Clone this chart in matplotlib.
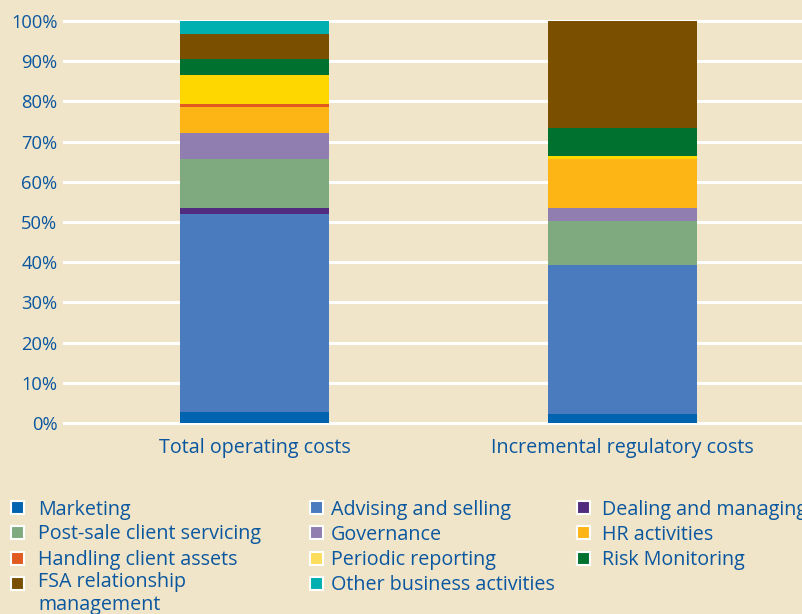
import matplotlib
matplotlib.use("Agg")
import matplotlib.pyplot as plt
from matplotlib.patches import Rectangle

categories = ["Total operating costs", "Incremental regulatory costs"]
series = ["Marketing", "Advising and selling", "Dealing and managing",
          "Post-sale client servicing", "Governance", "HR activities",
          "Handling client assets", "Periodic reporting", "Risk Monitoring",
          "FSA relationship\nmanagement", "Other business activities"]
marketing = [2.7, 2.2]
advising = [49.3, 37.1]
dealing = [1.5, 0.0]
post_sale = [12.2, 10.9]
governance = [6.4, 3.3]
hr = [6.5, 12.2]
handling = [0.8, 0.0]
periodic = [7.2, 0.7]
risk = [3.9, 7.0]
fsa = [6.3, 26.6]
other = [3.2, 0.0]
values = [marketing, advising, dealing, post_sale, governance, hr,
          handling, periodic, risk, fsa, other]
colors = ["#0063AF", "#4A7BBE", "#512B7D", "#7FAA80", "#8F7EAF", "#FDB515",
          "#E05A22", "#FFD700", "#00712F", "#7A4F00", "#00B0B0"]
legend_colors = list(colors)
legend_colors[7] = "#FDDD5C"
yticks = [0, 10, 20, 30, 40, 50, 60, 70, 80, 90, 100]

bg = "#F0E5C8"
txt = "#0A57A0"
font = "Open Sans"
fs = 14.2

W, H = 802, 614
fig = plt.figure(figsize=(W / 100, H / 100), dpi=100, facecolor=bg)

ymin, ymax = -1.0, 101.0
ppu = 402 / 100.0
ax_bottom_px = 423 + (0 - ymin) * ppu
ax_top_px = 21 - (ymax - 100) * ppu
left_px = 63
ax = fig.add_axes([left_px / W, (H - ax_bottom_px) / H, (W - left_px) / W,
                   (ax_bottom_px - ax_top_px) / H])
ax.set_facecolor(bg)

x = [0, 1]
bottom = [0.0, 0.0]
for vals, c in zip(values, colors):
    ax.bar(x, vals, width=0.405, bottom=bottom, color=c, zorder=3, linewidth=0)
    bottom = [b + v for b, v in zip(bottom, vals)]

ax.set_ylim(ymin, ymax)
ax.set_xlim((63 - 254.5) / 368, (802 - 254.5) / 368)
ax.set_yticks(yticks)
ax.set_yticklabels([f"{t}%" for t in yticks], fontfamily=font, fontsize=13.2, color=txt)
ax.set_xticks(x)
ax.set_xticklabels(categories, fontfamily=font, fontsize=fs, color=txt)
ax.tick_params(axis="both", length=0)
ax.tick_params(axis="y", pad=4)
ax.tick_params(axis="x", pad=8)
ax.yaxis.grid(True, color="white", linewidth=2.2, zorder=1)
ax.set_axisbelow(True)
for s in ax.spines.values():
    s.set_visible(False)

# legend (row-wise layout)
col_sw = [17, 316, 583]
col_tx = [38, 331, 602]
row_y = [507, 532, 558, 583]
for i, (lab, c) in enumerate(zip(series, legend_colors)):
    r, cidx = divmod(i, 3)
    cy = row_y[r]
    cx = col_sw[cidx]
    fig.add_artist(Rectangle(((cx - 6.5) / W, (H - cy - 6.5) / H), 13 / W, 13 / H,
                             transform=fig.transFigure, facecolor=c,
                             edgecolor="white", linewidth=1.5))
    if "\n" in lab:
        fig.text(col_tx[cidx] / W, (H - cy + 11) / H, lab, fontfamily=font,
                 fontsize=fs, color=txt, ha="left", va="top", linespacing=1.2)
    else:
        fig.text(col_tx[cidx] / W, (H - cy) / H, lab, fontfamily=font,
                 fontsize=fs, color=txt, ha="left", va="center_baseline")

fig.savefig("out.png", dpi=100, facecolor=bg)
